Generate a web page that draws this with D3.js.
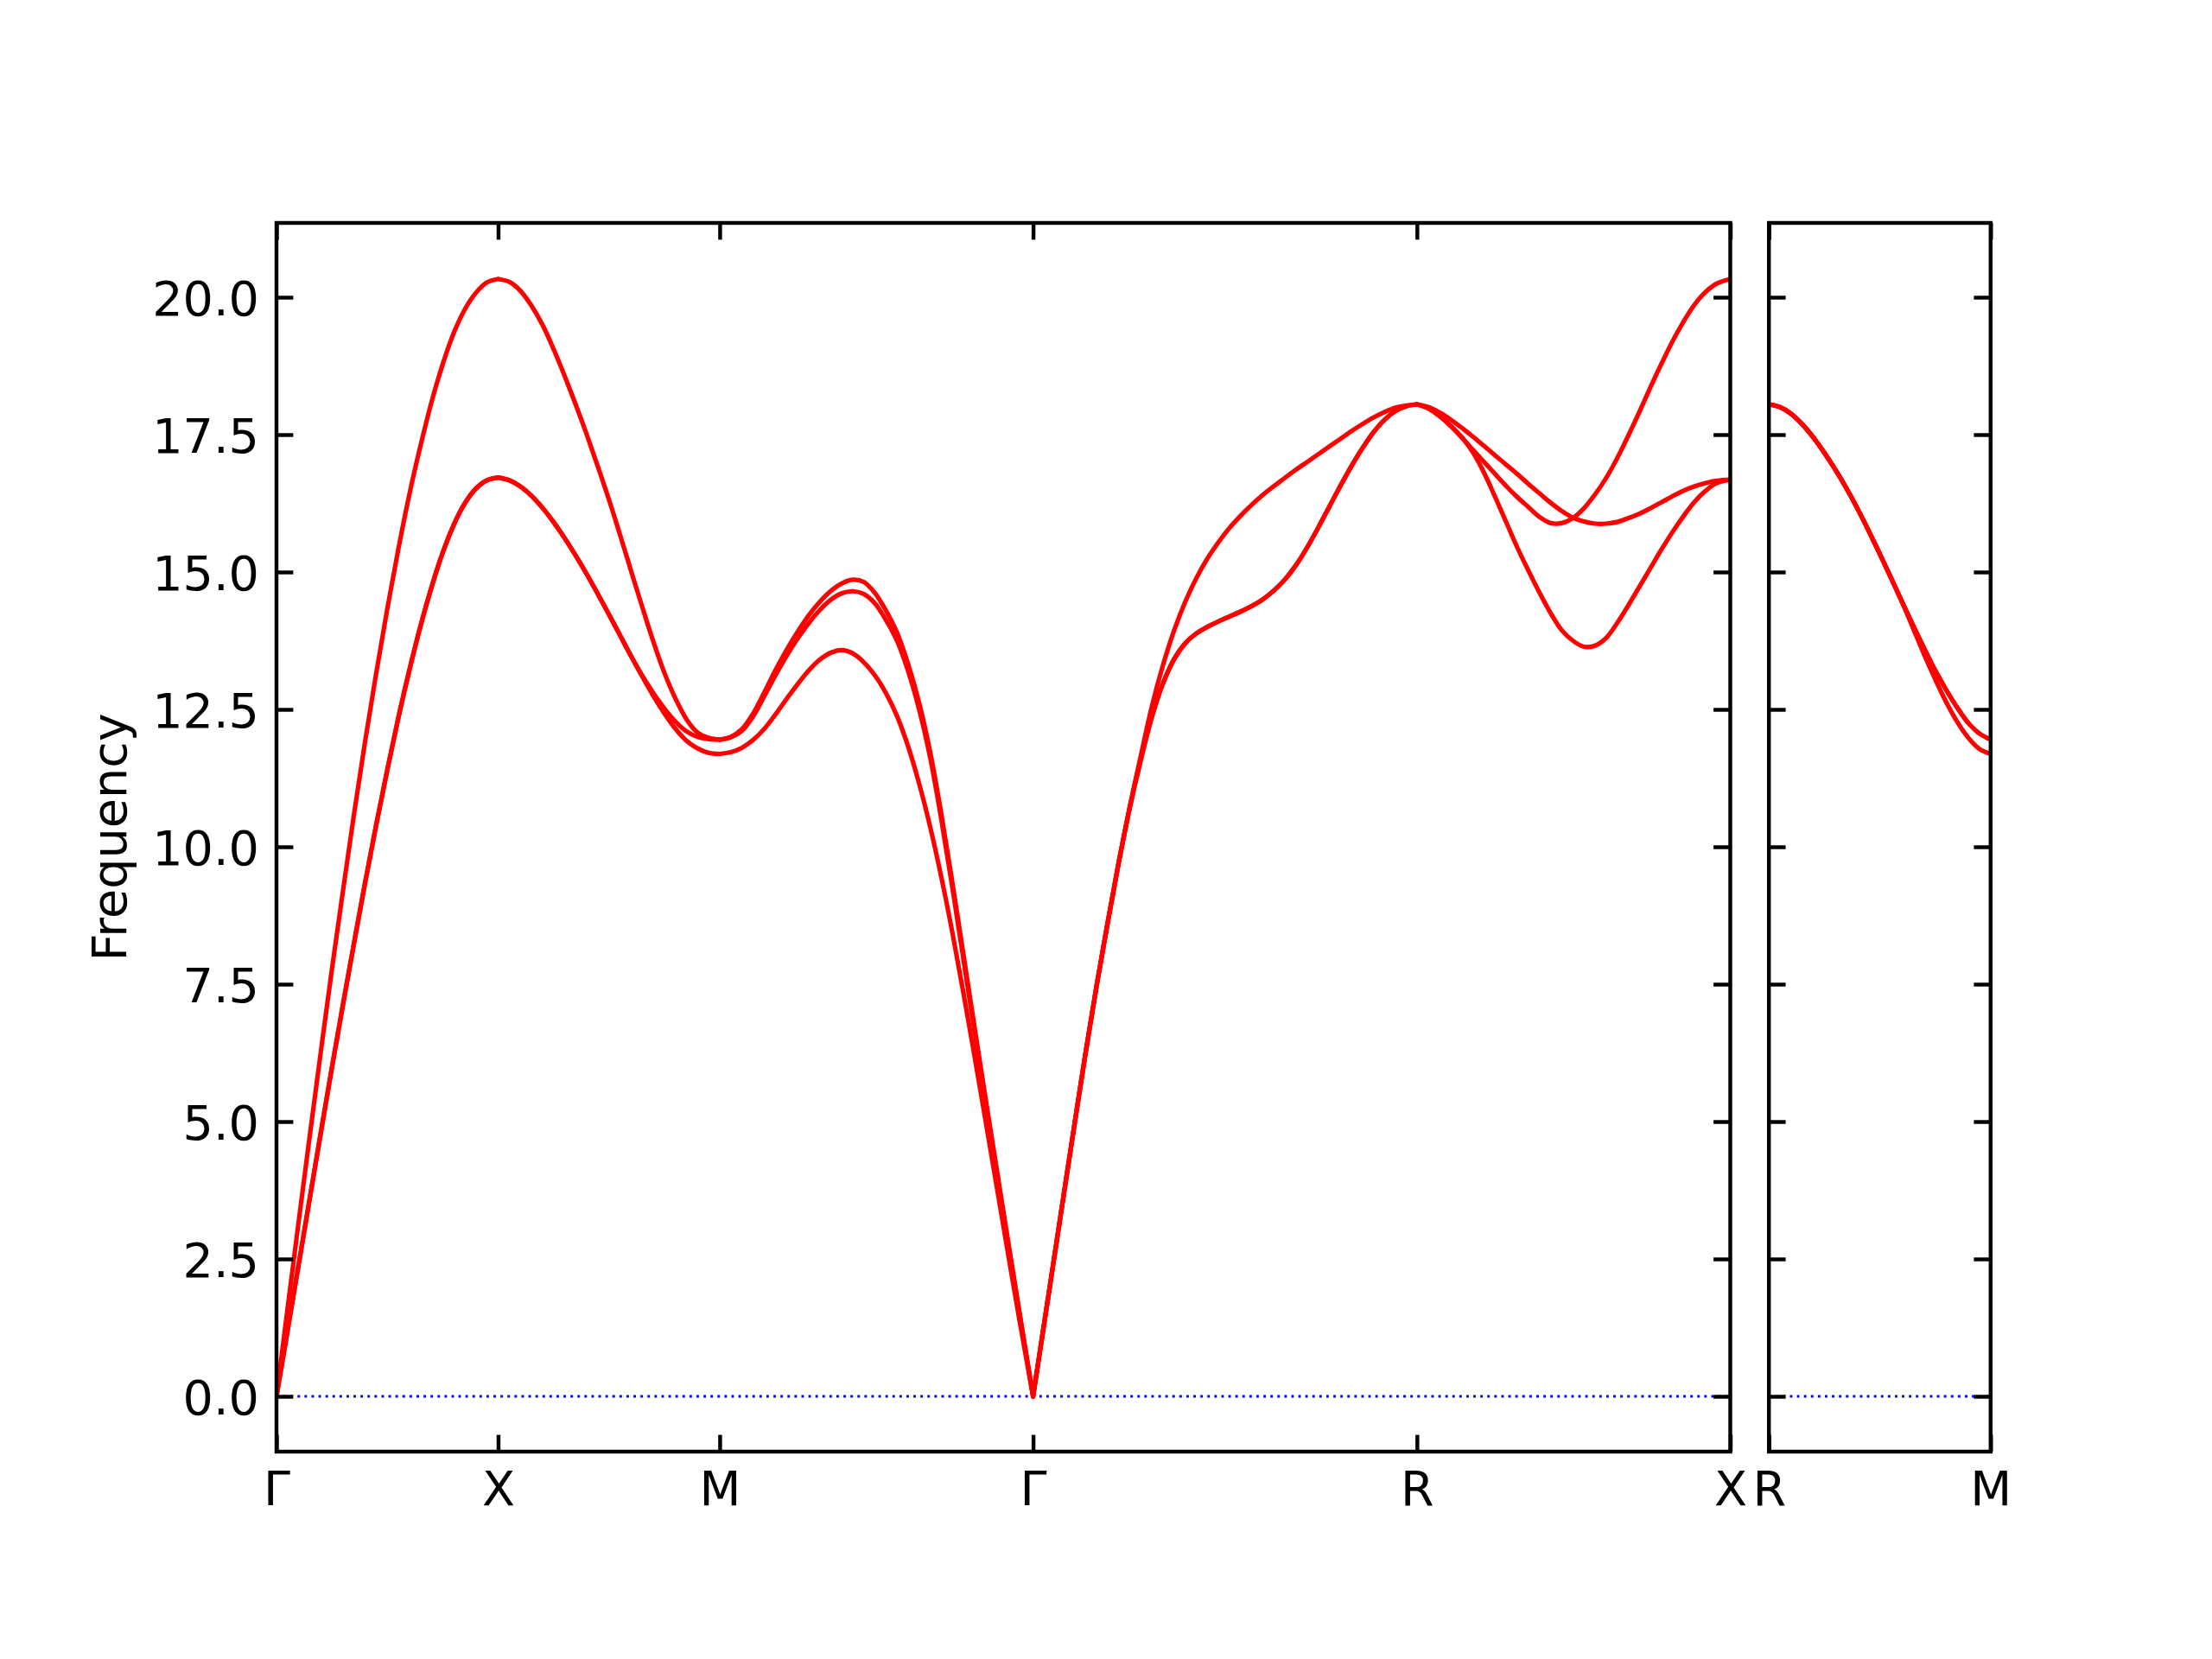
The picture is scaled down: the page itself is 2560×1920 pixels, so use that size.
<!DOCTYPE html>
<html><head><meta charset="utf-8">
<script src="https://cdn.jsdelivr.net/npm/d3@7"></script>
<style>body{margin:0;background:#fff} text{font-family:"DejaVu Sans",sans-serif}</style>
</head><body><svg id="c" width="2560" height="1920"></svg>
<script>
// ---- q-point path labels (main panel, path distance) ----
const mainTickPos = [0, 1, 2, 3.4142, 5.1463, 6.5605];
const mainTickLabels = ["Γ", "X", "M", "Γ", "R", "X"];
const sideTickPos = [0, 1];
const sideTickLabels = ["R", "M"];
const yTickValues = [0, 2.5, 5, 7.5, 10, 12.5, 15, 17.5, 20];
const yLabel = "Frequency";

// ---- bands: [path distance, frequency] ----
// Γ–X
const GX_1 = [[0,0],[0.05,1.6],[0.1,3.18],[0.15,4.74],[0.2,6.27],[0.25,7.77],[0.3,9.2],[0.35,10.6],[0.4,11.92],[0.45,13.16],[0.5,14.33],[0.55,15.42],[0.6,16.42],[0.65,17.3],[0.7,18.1],[0.75,18.78],[0.8,19.35],[0.85,19.78],[0.9,20.08],[0.95,20.27],[1,20.33]];
const GX_2 = [[0,0],[0.05,1.2],[0.1,2.4],[0.15,3.6],[0.2,4.8],[0.25,5.98],[0.3,7.13],[0.35,8.25],[0.4,9.35],[0.45,10.4],[0.5,11.4],[0.55,12.35],[0.6,13.22],[0.65,14.02],[0.7,14.73],[0.75,15.35],[0.8,15.86],[0.85,16.25],[0.9,16.52],[0.95,16.67],[1,16.72]];
const GX_3 = GX_2;
// X–M
const XM_1 = [[1,20.33],[1.05,20.28],[1.1,20.12],[1.15,19.85],[1.2,19.5],[1.25,19.06],[1.3,18.57],[1.35,18.05],[1.4,17.5],[1.45,16.92],[1.5,16.32],[1.55,15.68],[1.6,15.02],[1.65,14.37],[1.7,13.74],[1.75,13.17],[1.8,12.7],[1.85,12.32],[1.9,12.08],[1.95,11.98],[2,11.95]];
const XM_2 = [[1,16.72],[1.05,16.67],[1.1,16.56],[1.15,16.39],[1.2,16.17],[1.25,15.91],[1.3,15.62],[1.35,15.3],[1.4,14.96],[1.45,14.6],[1.5,14.23],[1.55,13.85],[1.6,13.47],[1.65,13.12],[1.7,12.8],[1.75,12.52],[1.8,12.28],[1.85,12.1],[1.9,12.0],[1.95,11.96],[2,11.95]];
const XM_3 = [[1,16.72],[1.05,16.67],[1.1,16.56],[1.15,16.39],[1.2,16.17],[1.25,15.91],[1.3,15.62],[1.35,15.3],[1.4,14.96],[1.45,14.6],[1.5,14.23],[1.55,13.85],[1.6,13.47],[1.65,13.1],[1.7,12.75],[1.75,12.43],[1.8,12.15],[1.85,11.93],[1.9,11.79],[1.95,11.71],[2,11.69]];
// M–Γ
const MG_1 = [[2,11.95],[2.05,12.0],[2.1,12.14],[2.15,12.42],[2.2,12.8],[2.25,13.2],[2.3,13.57],[2.35,13.9],[2.4,14.2],[2.45,14.45],[2.5,14.65],[2.55,14.79],[2.6,14.86],[2.65,14.82],[2.7,14.62],[2.75,14.3],[2.8,13.9],[2.85,13.33],[2.9,12.62],[2.95,11.72],[3.0,10.6],[3.05,9.35],[3.1,8.04],[3.15,6.72],[3.2,5.42],[3.25,4.14],[3.3,2.86],[3.35,1.6],[3.4142,0]];
const MG_2 = [[2,11.95],[2.05,11.99],[2.1,12.11],[2.15,12.37],[2.2,12.73],[2.25,13.11],[2.3,13.46],[2.35,13.78],[2.4,14.06],[2.45,14.3],[2.5,14.49],[2.55,14.61],[2.6,14.65],[2.65,14.6],[2.7,14.43],[2.75,14.13],[2.8,13.75],[2.85,13.2],[2.9,12.5],[2.95,11.62],[3.0,10.5],[3.05,9.26],[3.1,7.95],[3.15,6.64],[3.2,5.35],[3.25,4.08],[3.3,2.82],[3.35,1.58],[3.4142,0]];
const MG_3 = [[2,11.69],[2.05,11.72],[2.1,11.8],[2.15,11.94],[2.2,12.14],[2.25,12.4],[2.3,12.68],[2.35,12.95],[2.4,13.2],[2.45,13.4],[2.5,13.53],[2.55,13.58],[2.6,13.52],[2.65,13.36],[2.7,13.12],[2.75,12.8],[2.8,12.38],[2.85,11.83],[2.9,11.15],[2.95,10.36],[3.0,9.45],[3.05,8.44],[3.1,7.34],[3.15,6.19],[3.2,5.01],[3.25,3.82],[3.3,2.63],[3.35,1.45],[3.4142,0]];
// Γ–R
const GR_shared = [[3.4142,0],[3.45,0.95],[3.5,2.27],[3.55,3.6],[3.6,4.92],[3.65,6.22],[3.7,7.45],[3.75,8.6],[3.8,9.7]];
const GR_1 = GR_shared.concat([[3.85,10.72],[3.9,11.65],[3.95,12.55],[4.0,13.3],[4.05,13.93],[4.1,14.45],[4.15,14.88],[4.2,15.24],[4.25,15.54],[4.3,15.8],[4.35,16.02],[4.4,16.22],[4.45,16.4],[4.5,16.56],[4.55,16.71],[4.6,16.86],[4.65,17.0],[4.7,17.14],[4.75,17.28],[4.8,17.42],[4.85,17.56],[4.9,17.69],[4.95,17.81],[5.0,17.91],[5.05,17.99],[5.1,18.03],[5.1463,18.05]]);
const GR_2 = GR_shared.concat([[3.85,10.7],[3.9,11.58],[3.95,12.36],[4.0,12.97],[4.05,13.41],[4.1,13.7],[4.15,13.88],[4.2,14.0],[4.25,14.1],[4.3,14.19],[4.35,14.28],[4.4,14.38],[4.45,14.5],[4.5,14.66],[4.55,14.86],[4.6,15.12],[4.65,15.44],[4.7,15.8],[4.75,16.18],[4.8,16.56],[4.85,16.92],[4.9,17.25],[4.95,17.54],[5.0,17.77],[5.05,17.93],[5.1,18.02],[5.1463,18.05]]);
const GR_3 = GR_2;
// R–X
const RX_1 = [[5.1463,18.05],[5.2,17.98],[5.25,17.84],[5.3,17.65],[5.35,17.44],[5.4,17.22],[5.45,17.0],[5.5,16.78],[5.55,16.56],[5.6,16.36],[5.65,16.18],[5.7,16.0],[5.75,15.89],[5.8,15.89],[5.85,15.98],[5.9,16.16],[5.95,16.41],[6.0,16.71],[6.05,17.07],[6.1,17.48],[6.15,17.91],[6.2,18.36],[6.25,18.79],[6.3,19.2],[6.35,19.56],[6.4,19.87],[6.45,20.1],[6.5,20.25],[6.5605,20.33]];
const RX_2 = [[5.1463,18.05],[5.2,18.0],[5.25,17.9],[5.3,17.77],[5.35,17.62],[5.4,17.46],[5.45,17.29],[5.5,17.12],[5.55,16.95],[5.6,16.78],[5.65,16.6],[5.7,16.43],[5.75,16.26],[5.8,16.11],[5.85,15.99],[5.9,15.92],[5.95,15.88],[6.0,15.88],[6.05,15.91],[6.1,15.98],[6.15,16.06],[6.2,16.16],[6.25,16.27],[6.3,16.38],[6.35,16.48],[6.4,16.56],[6.45,16.62],[6.5,16.66],[6.5605,16.68]];
const RX_3 = [[5.1463,18.05],[5.2,17.97],[5.25,17.83],[5.3,17.66],[5.35,17.45],[5.4,17.17],[5.45,16.8],[5.5,16.36],[5.55,15.9],[5.6,15.44],[5.65,15.02],[5.7,14.62],[5.75,14.25],[5.8,13.94],[5.85,13.75],[5.9,13.64],[5.95,13.66],[6.0,13.8],[6.05,14.07],[6.1,14.39],[6.15,14.73],[6.2,15.07],[6.25,15.41],[6.3,15.73],[6.35,16.02],[6.4,16.28],[6.45,16.48],[6.5,16.62],[6.5605,16.68]];
// R–M (side panel)
const RM_1 = [[0,18.05],[0.05,18.0],[0.1,17.88],[0.15,17.69],[0.2,17.45],[0.25,17.17],[0.3,16.86],[0.35,16.52],[0.4,16.15],[0.45,15.75],[0.5,15.33],[0.55,14.9],[0.6,14.46],[0.65,14.03],[0.7,13.61],[0.75,13.21],[0.8,12.85],[0.85,12.53],[0.9,12.25],[0.95,12.06],[1,11.95]];
const RM_2 = RM_1;
const RM_3 = [[0,18.05],[0.05,18.0],[0.1,17.88],[0.15,17.69],[0.2,17.45],[0.25,17.17],[0.3,16.86],[0.35,16.52],[0.4,16.15],[0.45,15.75],[0.5,15.33],[0.55,14.9],[0.6,14.46],[0.65,13.98],[0.7,13.5],[0.75,13.05],[0.8,12.63],[0.85,12.27],[0.9,11.98],[0.95,11.78],[1,11.69]];

const mainBands = [GX_1,GX_2,GX_3,XM_1,XM_2,XM_3,MG_1,MG_2,MG_3,GR_1,GR_2,GR_3,RX_1,RX_2,RX_3];
const sideBands = [RM_1,RM_2,RM_3];

// ---- layout ----
const W = 2560, H = 1920;
const pTop = 258, pBottom = 1680;
const mainL = 320, mainR = 2002.5, sideL = 2047.2, sideR = 2303.8;
const FS = 55.6, LW = 4.44, TL = 19.4;

const svg = d3.select("#c");
svg.append("rect").attr("width", W).attr("height", H).attr("fill", "#fff");

const y = d3.scaleLinear().domain([-1.006, 21.352]).range([pBottom, pTop]);
const xMain = d3.scaleLinear().domain([0, 6.5605]).range([mainL, mainR]);
const xSide = d3.scaleLinear().domain([0, 1]).range([sideL, sideR]);

function panel(x, bands, tickPos, tickLabels, withYLabels, id) {
  const [l, r] = x.range();
  svg.append("clipPath").attr("id", id).append("rect")
    .attr("x", l).attr("y", pTop).attr("width", r - l).attr("height", pBottom - pTop);
  const g = svg.append("g").attr("clip-path", `url(#${id})`);
  g.append("line").attr("x1", l).attr("x2", r).attr("y1", y(0)).attr("y2", y(0))
    .attr("stroke", "#0000ff").attr("stroke-width", 2.9).attr("stroke-dasharray", "2.9,5.2");
  const line = d3.line().x(d => x(d[0])).y(d => y(d[1])).curve(d3.curveCatmullRom.alpha(0.5));
  g.selectAll("path.band").data(bands).enter().append("path")
    .attr("d", line).attr("fill", "none").attr("stroke", "#ff0000")
    .attr("stroke-width", 5.2).attr("stroke-linejoin", "round").attr("stroke-linecap", "round");

  const style = (sel) => {
    sel.select(".domain").remove();
    sel.attr("font-size", FS).attr("font-family", "DejaVu Sans, sans-serif");
    sel.selectAll(".tick line").attr("stroke", "#000").attr("stroke-width", LW);
    sel.selectAll(".tick text").attr("fill", "#000");
  };
  const xb = svg.append("g").attr("transform", `translate(0,${pBottom})`)
    .call(d3.axisBottom(x).tickValues(tickPos).tickFormat((d, i) => tickLabels[i])
      .tickSizeInner(-TL).tickSizeOuter(0).tickPadding(22.5));
  style(xb);
  const xt = svg.append("g").attr("transform", `translate(0,${pTop})`)
    .call(d3.axisTop(x).tickValues(tickPos).tickFormat("").tickSizeInner(-TL).tickSizeOuter(0));
  style(xt);
  const yl = svg.append("g").attr("transform", `translate(${l},0)`)
    .call(d3.axisLeft(y).tickValues(yTickValues).tickFormat(withYLabels ? d3.format(".1f") : () => "")
      .tickSizeInner(-TL).tickSizeOuter(0).tickPadding(20));
  style(yl);
  yl.selectAll(".tick text").attr("dy", "0.36em");
  const yr = svg.append("g").attr("transform", `translate(${r},0)`)
    .call(d3.axisRight(y).tickValues(yTickValues).tickFormat("").tickSizeInner(-TL).tickSizeOuter(0));
  style(yr);
  svg.append("rect").attr("x", l).attr("y", pTop).attr("width", r - l).attr("height", pBottom - pTop)
    .attr("fill", "none").attr("stroke", "#000").attr("stroke-width", LW).attr("stroke-linejoin", "miter");
}

panel(xMain, mainBands, mainTickPos, mainTickLabels, true, "clipMain");
panel(xSide, sideBands, sideTickPos, sideTickLabels, false, "clipSide");

svg.append("text").attr("transform", `translate(146,${(pTop + pBottom) / 2}) rotate(-90)`)
  .attr("text-anchor", "middle").attr("font-size", FS).attr("fill", "#000").text(yLabel);
</script>
</body></html>
